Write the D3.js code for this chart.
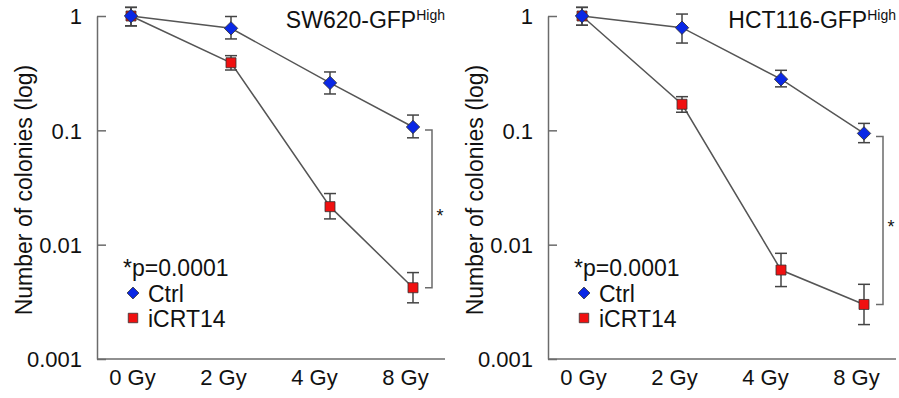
<!DOCTYPE html>
<html>
<head>
<meta charset="utf-8">
<script src="https://cdn.jsdelivr.net/npm/d3@7/dist/d3.min.js"></script>
<style>
  body { margin: 0; background: #fff; }
  svg { display: block; font-family: "Liberation Sans", Arial, sans-serif; }
</style>
</head>
<body>
<svg id="chart" width="899" height="398"></svg>
<script>
// data
const doses = ['0 Gy', '2 Gy', '4 Gy', '8 Gy'];
const yTicks = [0.001, 0.01, 0.1, 1];
const seriesNames = ['Ctrl', 'iCRT14'];
const panelTitles = ['SW620-GFP', 'HCT116-GFP'];
const pText = '*p=0.0001';

// SW620
const swCtrl = [1.0, 0.78, 0.26, 0.107];
const swCtrlLo = [0.82, 0.63, 0.208, 0.086];
const swCtrlHi = [1.19, 0.99, 0.324, 0.136];
const swIcrt = [1.0, 0.39, 0.0215, 0.0042];
const swIcrtLo = [0.82, 0.337, 0.0168, 0.0031];
const swIcrtHi = [1.19, 0.45, 0.028, 0.0057];

// HCT116
const hcCtrl = [1.0, 0.79, 0.28, 0.094];
const hcCtrlLo = [0.83, 0.58, 0.24, 0.078];
const hcCtrlHi = [1.19, 1.04, 0.335, 0.115];
const hcIcrt = [1.0, 0.169, 0.006, 0.003];
const hcIcrtLo = [0.83, 0.144, 0.0043, 0.002];
const hcIcrtHi = [1.19, 0.197, 0.0084, 0.0045];

const svg = d3.select('#chart');
const axisColor = '#6b6b6b';
const lineColor = '#555';
const colors = { Ctrl: '#0a28e6', iCRT14: '#f01010' };

const y = d3.scaleLog().domain([0.001, 1]).range([359, 16]);

function drawPanel(dx, title, ctrl, ctrlLo, ctrlHi, icrt, icrtLo, icrtHi) {
  const g = svg.append('g').attr('transform', `translate(${dx},0)`);
  // mark positions (uneven spacing in the original figure)
  const xm = d3.scaleLinear().domain([0, 1, 2, 3]).range([131, 231, 330, 413]);
  const xl = d3.scalePoint().domain(doses).range([132, 405]);

  // y axis, ticks pointing inward
  const yAxis = g.append('g').attr('transform', 'translate(97,0)')
    .call(d3.axisLeft(y).tickValues(yTicks).tickFormat(d => String(d))
      .tickSizeInner(-9).tickSizeOuter(0).tickPadding(15));
  yAxis.selectAll('path,line').attr('stroke', axisColor).attr('stroke-width', 1.5);
  yAxis.selectAll('text').attr('font-size', 22).attr('fill', '#111')
    .attr('font-family', '"Liberation Sans", Arial, sans-serif').attr('dy', '0.36em');

  // x axis
  g.append('line').attr('x1', 97).attr('x2', 445).attr('y1', y(0.001)).attr('y2', y(0.001))
    .attr('stroke', axisColor).attr('stroke-width', 1.5);
  const xAxis = g.append('g').attr('transform', `translate(0,${y(0.001)})`)
    .call(d3.axisBottom(xl).tickSize(0).tickPadding(10));
  xAxis.select('.domain').remove();
  xAxis.selectAll('text').attr('font-size', 22).attr('fill', '#111')
    .attr('font-family', '"Liberation Sans", Arial, sans-serif');

  // y label
  g.append('text').attr('transform', 'translate(32,190) rotate(-90)')
    .attr('text-anchor', 'middle').attr('font-size', 23).attr('fill', '#111')
    .text('Number of colonies (log)');

  // title
  const t = g.append('text').attr('x', 445).attr('y', 28).attr('text-anchor', 'end')
    .attr('font-size', 23).attr('fill', '#111');
  t.append('tspan').text(title);
  t.append('tspan').attr('font-size', 14).attr('dy', -8).text('High');

  const series = [
    { name: 'Ctrl', v: ctrl, lo: ctrlLo, hi: ctrlHi },
    { name: 'iCRT14', v: icrt, lo: icrtLo, hi: icrtHi }
  ];
  const line = d3.line().x((d, i) => xm(i)).y(d => y(d));

  // connecting lines (draw iCRT14 then Ctrl)
  series.forEach(s => {
    g.append('path').datum(s.v).attr('d', line).attr('fill', 'none')
      .attr('stroke', lineColor).attr('stroke-width', 1.5);
  });

  // error bars
  series.forEach(s => {
    const eb = g.append('g');
    s.v.forEach((v, i) => {
      const cx = xm(i);
      eb.append('line').attr('x1', cx).attr('x2', cx).attr('y1', y(s.hi[i])).attr('y2', y(s.lo[i]));
      [s.hi[i], s.lo[i]].forEach(e => {
        eb.append('line').attr('x1', cx - 6).attr('x2', cx + 6).attr('y1', y(e)).attr('y2', y(e));
      });
    });
    eb.selectAll('line').attr('stroke', '#444').attr('stroke-width', 1.5);
  });

  // markers
  const diamond = d3.symbol().type(d3.symbolSquare).size(90);
  const square = d3.symbol().type(d3.symbolSquare).size(100);
  series.slice().reverse().forEach(s => {
    g.selectAll(null).data(s.v).enter().append('path')
      .attr('d', s.name === 'Ctrl' ? diamond : square)
      .attr('transform', (d, i) => `translate(${xm(i)},${y(d)})` + (s.name === 'Ctrl' ? ' rotate(45)' : ''))
      .attr('fill', colors[s.name]).attr('stroke', '#333').attr('stroke-width', 0.8);
  });

  // significance bracket at 8 Gy
  const bx = xm(3) + 19;
  const yTop = y(ctrl[3]) + 3, yBot = y(icrt[3]);
  g.append('path')
    .attr('d', `M${bx - 7},${yTop}H${bx}V${yBot}H${bx - 7}`)
    .attr('fill', 'none').attr('stroke', axisColor).attr('stroke-width', 1.5);
  g.append('text').attr('x', bx + 8).attr('y', (yTop + yBot) / 2 + 13)
    .attr('text-anchor', 'middle').attr('font-size', 18).attr('fill', '#111').text('*');

  // legend
  const lg = g.append('g');
  lg.append('text').attr('x', 123).attr('y', 276).attr('font-size', 23).attr('fill', '#111').text(pText);
  seriesNames.forEach((name, i) => {
    const ly = 293 + i * 25;
    lg.append('path')
      .attr('d', name === 'Ctrl' ? d3.symbol().type(d3.symbolSquare).size(70)() : d3.symbol().type(d3.symbolSquare).size(90)())
      .attr('transform', `translate(133,${ly})` + (name === 'Ctrl' ? ' rotate(45)' : ''))
      .attr('fill', colors[name]).attr('stroke', '#333').attr('stroke-width', 0.8);
    lg.append('text').attr('x', 148).attr('y', ly + 9).attr('font-size', 23).attr('fill', '#111').text(name);
  });
}

drawPanel(0, panelTitles[0], swCtrl, swCtrlLo, swCtrlHi, swIcrt, swIcrtLo, swIcrtHi);
drawPanel(451, panelTitles[1], hcCtrl, hcCtrlLo, hcCtrlHi, hcIcrt, hcIcrtLo, hcIcrtHi);
</script>
</body>
</html>
